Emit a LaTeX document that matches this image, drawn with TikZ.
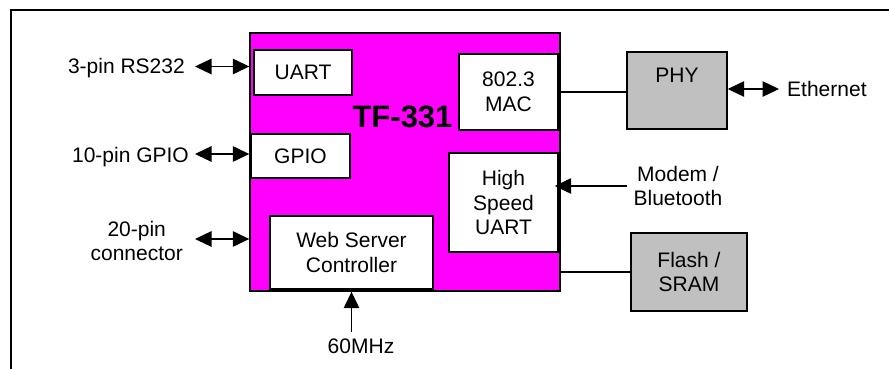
\documentclass[tikz,border=0pt]{standalone}
\usepackage{fontspec}
\setmainfont{Liberation Sans}
\usetikzlibrary{arrows.meta}
\definecolor{chipmag}{HTML}{FF00FF}
\definecolor{boxgray}{HTML}{C0C0C0}
\begin{document}
\begin{tikzpicture}[x=1pt,y=-1pt,
  every node/.style={font=\fontsize{21}{24.5}\selectfont},
  blk/.style={draw=black, line width=1.4pt, fill=white, inner sep=0pt, align=center},
  gblk/.style={blk, fill=boxgray},
  lbl/.style={inner sep=0pt, align=center, text height=15pt, text depth=0pt},
  tip/.tip={Triangle[length=16.5pt,width=15.5pt]},
  biarrow/.style={line width=1.3pt, tip-tip},
  sarrow/.style={line width=1.3pt, -tip},
  wire/.style={line width=1.3pt}]
\useasboundingbox (0,0) rectangle (889,369);
% frame
\draw[line width=1.4pt] (11,369) -- (11,10) -- (889,10);
% chip
\node[blk, fill=chipmag, minimum width=310pt, minimum height=258pt] (tf) at (405,162) {};
\node[inner sep=0pt, font=\fontsize{31}{34}\selectfont\bfseries] (tfl) at (402.5,116.5) {TF-331};
\node[blk, minimum width=98pt, minimum height=45pt] (uart) at (303,72.5) {UART};
\node[blk, minimum width=99pt, minimum height=44pt] (gpio) at (300.5,156) {GPIO};
\node[blk, minimum width=163pt, minimum height=73pt] (web) at (351.5,252.5) {Web Server\\Controller};
\node[blk, minimum width=99pt, minimum height=76pt] (mac) at (508.5,92) {802.3\\MAC};
\node[blk, minimum width=109pt, minimum height=99pt] (hsu) at (503.5,202.5) {High\\Speed\\UART};
% external
\node[gblk, minimum width=100pt, minimum height=77pt] (phy) at (677,90.5) {};
\node[lbl] (phyl) at ([yshift=-24pt]phy.north) {PHY};
\node[gblk, minimum width=116pt, minimum height=78pt] (flash) at (689,272) {Flash /\\SRAM};
% labels
\node[lbl, anchor=east] (rs) at (185,66.5) {3-pin RS232};
\node[lbl, anchor=east] (gp) at (189,155) {10-pin GPIO};
\node[inner sep=0pt, align=center, anchor=east] (conn) at (183,241) {20-pin\\connector};
\node[lbl, anchor=west] (eth) at (787,89) {Ethernet};
\node[inner sep=0pt, align=center] (modem) at (678,186) {Modem /\\Bluetooth};
\node[lbl] (mhz) at (361,345.5) {60MHz};
% connectors
\draw[biarrow] ([xshift=10pt]rs.east) -- (rs.east -| tf.west);
\draw[biarrow] ([xshift=6pt,yshift=1pt]gp.east) -- ([yshift=1pt]gp.east -| tf.west);
\draw[biarrow] ([xshift=12pt,yshift=2pt]conn.east) -- ([yshift=2pt]conn.east -| tf.west);
\draw[wire] (mac.east) -- (mac.east -| phy.west);
\draw[biarrow] (eth.west -| phy.east) -- ([xshift=-8pt]eth.west);
\draw[sarrow] ([xshift=-6pt]modem.west) -- ([xshift=-6pt]modem.west -| tf.east);
\draw[wire] (flash.west -| tf.east) -- (flash.west);
\draw[sarrow] ([yshift=6pt]mhz.north -| web.south) -- (web.south |- tf.south);
\end{tikzpicture}
\end{document}
